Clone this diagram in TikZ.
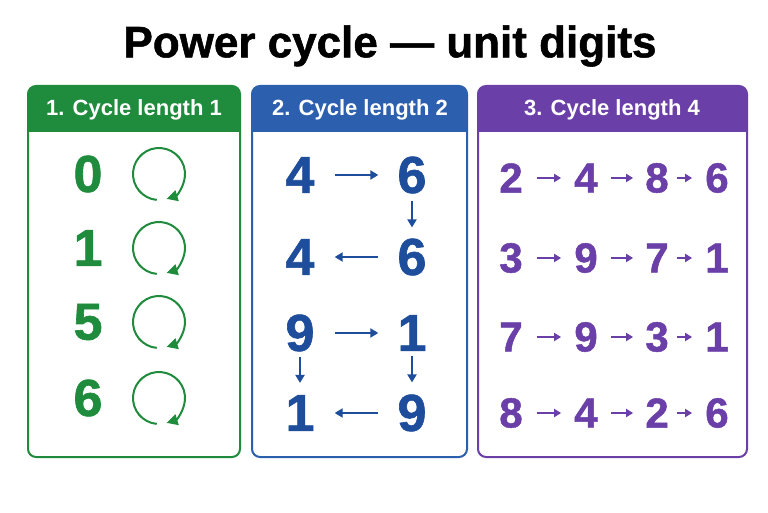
\documentclass[tikz,border=0pt]{standalone}
\usepackage{fontspec}
\setmainfont{Liberation Sans}
\newfontfamily\heavyfont[FakeBold=1.2]{Liberation Sans Bold}
\usetikzlibrary{arrows.meta}
\definecolor{cgreen}{HTML}{1F8B3C}
\definecolor{cbluehead}{HTML}{2C5FAE}
\definecolor{cblue}{HTML}{1D4D9B}
\definecolor{cpurple}{HTML}{6B3FA8}
\tikzset{
  titletext/.style={font=\fontsize{44}{44}\heavyfont, inner sep=0pt},
  headtext/.style={font=\fontsize{22}{22}\selectfont\bfseries, text=white, inner sep=0pt},
  panelbox/.style={draw, line width=2pt, rounded corners=8pt, rectangle, inner sep=0pt},
  bigdigit/.style={font=\fontsize{52}{52}\heavyfont, inner sep=0pt},
  middigit/.style={font=\fontsize{42}{42}\heavyfont, inner sep=0pt},
  ring/.style={circle, minimum size=52pt, inner sep=0pt},
  loopline/.style={draw=cgreen, line width=2pt, -{Triangle[length=11pt,width=11pt]}},
  barrow/.style={draw=cblue, line width=2.4pt, -{Triangle[length=8pt,width=9pt]}},
  parrow/.style={draw=cpurple, line width=2.6pt, -{Triangle[length=7pt,width=8pt]}}
}
\begin{document}
\begin{tikzpicture}[x=1pt,y=1pt]
\useasboundingbox[fill=white] (0,0) rectangle (768,512);
\node[titletext] (title) at (390,466) {Power cycle — unit digits};

% ---------- Panel 1 ----------
\begin{scope}
\clip[rounded corners=8pt] (28,55) rectangle (240,426);
\fill[cgreen] (28,380) rectangle (240,426);
\end{scope}
\node[panelbox, draw=cgreen, minimum width=212pt, minimum height=371pt] (pA) at (134,240.5) {};
\node[headtext] (hA) at (134,402) {1. Cycle length 1};

\foreach \d/\y [count=\i] in {0/338,1/264,5/190,6/114}{
  \node[bigdigit, text=cgreen] (gA\i) at (88,\y) {\d};
  \node[ring] (rA\i) at (159,\y) {};
  \draw[loopline] (rA\i.center) ++(-95:26) arc[start angle=-95, end angle=-433, radius=26];
}

% ---------- Panel 2 ----------
\begin{scope}
\clip[rounded corners=8pt] (252,55) rectangle (467,426);
\fill[cbluehead] (252,380) rectangle (467,426);
\end{scope}
\node[panelbox, draw=cbluehead, minimum width=215pt, minimum height=371pt] (pB) at (359.5,240.5) {};
\node[headtext] (hB) at (360,402) {2. Cycle length 2};

\node[bigdigit, text=cblue] (b11) at (300,337) {4};
\node[bigdigit, text=cblue] (b12) at (412,337) {6};
\node[bigdigit, text=cblue] (b21) at (300,255) {4};
\node[bigdigit, text=cblue] (b22) at (412,255) {6};
\node[bigdigit, text=cblue] (b31) at (300,179) {9};
\node[bigdigit, text=cblue] (b32) at (412,179) {1};
\node[bigdigit, text=cblue] (b41) at (300,99) {1};
\node[bigdigit, text=cblue] (b42) at (412,99) {9};

\draw[barrow, shorten <=20pt, shorten >=19pt] (b11.east) -- (b12.west);
\draw[barrow, shorten <=7pt, shorten >=11pt] (b12.south) -- (b22.north);
\draw[barrow, shorten <=19pt, shorten >=20pt] (b22.west) -- (b21.east);
\draw[barrow, shorten <=20pt, shorten >=19pt] (b31.east) -- (b32.west);
\draw[barrow, shorten <=5pt, shorten >=12pt] (b31.south) -- (b41.north);
\draw[barrow, shorten <=5pt, shorten >=12pt] (b32.south) -- (b42.north);
\draw[barrow, shorten <=19pt, shorten >=20pt] (b42.west) -- (b41.east);

% ---------- Panel 3 ----------
\begin{scope}
\clip[rounded corners=8pt] (478,55) rectangle (747,426);
\fill[cpurple] (478,380) rectangle (747,426);
\end{scope}
\node[panelbox, draw=cpurple, minimum width=269pt, minimum height=371pt] (pC) at (612.5,240.5) {};
\node[headtext] (hC) at (612,402) {3. Cycle length 4};

\foreach \a/\b/\c/\e/\y [count=\r] in {2/4/8/6/334, 3/9/7/1/254, 7/9/3/1/175, 8/4/2/6/99}{
  \node[middigit, text=cpurple] (c\r a) at (511,\y) {\a};
  \node[middigit, text=cpurple] (c\r b) at (586,\y) {\b};
  \node[middigit, text=cpurple] (c\r c) at (657,\y) {\c};
  \node[middigit, text=cpurple] (c\r d) at (717,\y) {\e};
  \draw[parrow, shorten <=14pt, shorten >=13pt] (c\r a.east) -- (c\r b.west);
  \draw[parrow, shorten <=13pt, shorten >=12pt] (c\r b.east) -- (c\r c.west);
  \draw[parrow, shorten <=8pt, shorten >=13pt] (c\r c.east) -- (c\r d.west);
}
\end{tikzpicture}
\end{document}
